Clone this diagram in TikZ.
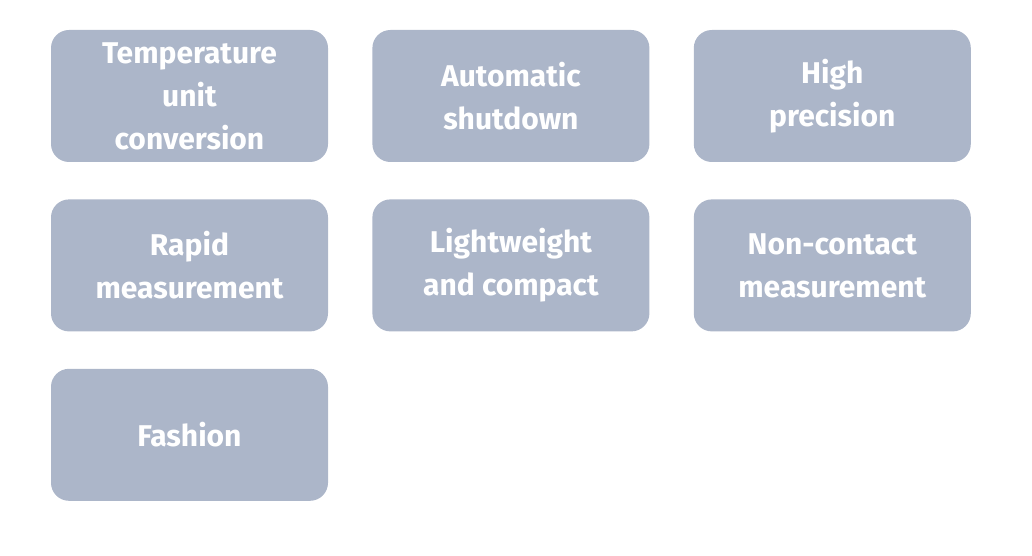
\documentclass[tikz,border=0pt]{standalone}
\usepackage{fontspec}
\setmainfont{Fira Sans}
\usetikzlibrary{positioning}
\definecolor{featgray}{HTML}{ACB6C9}
\begin{document}
\begin{tikzpicture}
    [x=1pt, y=-1pt,
    every node/.style={fill=featgray, rounded corners=18pt,
    minimum width=277pt, minimum height=132pt, inner sep=0pt,
    text=white, align=center, font=\fontsize{30}{43}\selectfont\bfseries},
    node distance=37pt and 44pt]
    \useasboundingbox (0,0) rectangle (1032,556);
    \node (unit) at (189.5,96) {Temperature\\unit\\conversion};
    \node (shutdown) [right=of unit] {Automatic\\shutdown};
    \node (precision) [right=of shutdown] {High\\precision};
    \node (rapid) [below=of unit] {Rapid\\measurement};
    \node (compact) [right=of rapid] {Lightweight\\and compact};
    \node (noncontact) [right=of compact] {Non-contact\\measurement};
    \node (fashion) [below=of rapid] {Fashion};
\end{tikzpicture}
\end{document}
